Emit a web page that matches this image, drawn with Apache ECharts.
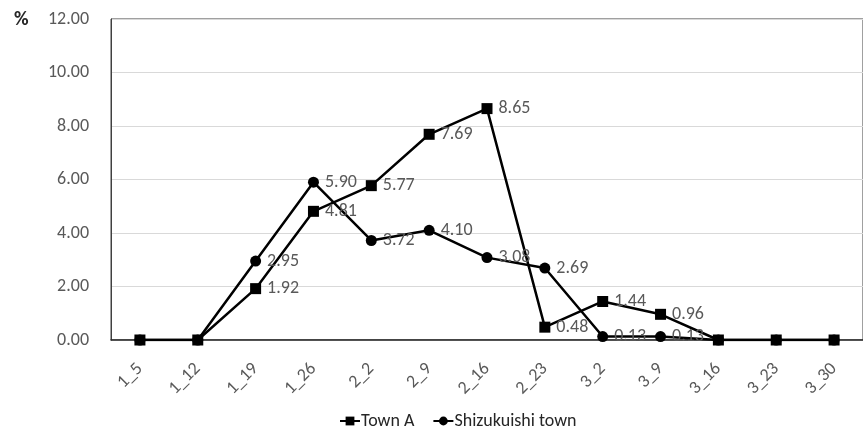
<!DOCTYPE html>
<html><head><meta charset="utf-8">
<script src="https://cdn.jsdelivr.net/npm/echarts@6/dist/echarts.min.js"></script>
<style>html,body{margin:0;padding:0;background:#fff}#c{width:863px;height:430px}</style>
</head><body><div id="c"></div>
<script>
var categories = ["1_5","1_12","1_19","1_26","2_2","2_9","2_16","2_23","3_2","3_9","3_16","3_23","3_30"];
var townA = [0,0,1.92,4.81,5.77,7.69,8.65,0.48,1.44,0.96,0,0,0];
var shizukuishi = [0,0,2.95,5.90,3.72,4.10,3.08,2.69,0.13,0.13,0,0,0];
var yTicks = [0,2,4,6,8,10,12];

var FONT = 'Carlito, "Liberation Sans Narrow", "Open Sans", sans-serif';
var chart = echarts.init(document.getElementById('c'));
function lbl(p){ return p.value === 0 ? '' : p.value.toFixed(2); }
chart.setOption({
  animation:false,
  textStyle:{fontFamily:FONT},
  grid:{left:111,top:19,width:756,height:321,show:true,borderColor:'#404040',borderWidth:1,backgroundColor:'transparent'},
  graphic:[{type:'text',left:14,top:10,style:{text:'%',font:'bold 20px '+FONT,fill:'#262626'}}],
  legend:{top:407,left:334,itemWidth:20,itemHeight:11,itemGap:18,
    textStyle:{fontFamily:FONT,fontSize:18,color:'#262626',padding:[0,0,0,-4]},
    data:['Town A','Shizukuishi town']},
  xAxis:{type:'category',data:categories,boundaryGap:true,
    axisLine:{lineStyle:{color:'#262626',width:1.5}},axisTick:{show:false},
    axisLabel:{rotate:45,margin:26,fontFamily:FONT,fontSize:18,color:'#595959',interval:0}},
  yAxis:{type:'value',min:0,max:12,interval:2,
    axisLine:{show:true,lineStyle:{color:'#404040'}},axisTick:{show:false},
    splitLine:{lineStyle:{color:'#d9d9d9'}},
    axisLabel:{margin:22,fontFamily:FONT,fontSize:18,color:'#595959',formatter:function(v){return v.toFixed(2);}}},
  series:[
    {name:'Shizukuishi town',type:'line',data:shizukuishi,symbol:'circle',symbolSize:11,
     lineStyle:{color:'#000',width:2.5},itemStyle:{color:'#000'},
     label:{show:true,position:'right',distance:6,formatter:lbl,fontFamily:FONT,fontSize:18,color:'#595959'}},
    {name:'Town A',type:'line',data:townA,symbol:'rect',symbolSize:11,
     lineStyle:{color:'#000',width:2.5},itemStyle:{color:'#000'},
     label:{show:true,position:'right',distance:6,formatter:lbl,fontFamily:FONT,fontSize:18,color:'#595959'}}
  ]
});
</script></body></html>
